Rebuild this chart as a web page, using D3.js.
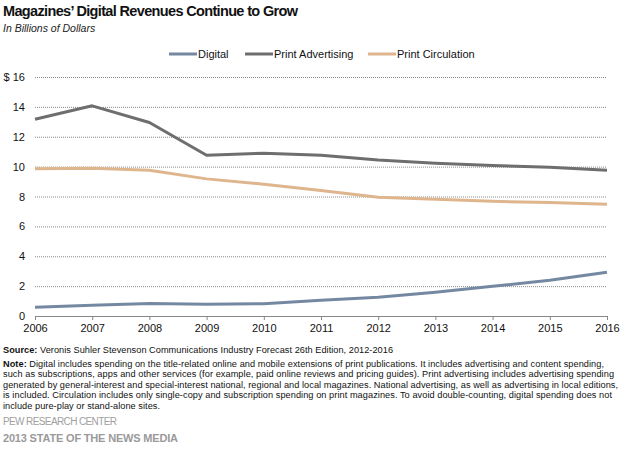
<!DOCTYPE html>
<html>
<head>
<meta charset="utf-8">
<script src="https://cdn.jsdelivr.net/npm/d3@7"></script>
<style>
  body { margin: 0; background: #fff; }
  svg text { font-family: "Liberation Sans", Arial, sans-serif; }
</style>
</head>
<body>
<div id="chart"></div>
<script>
var width = 628, height = 449;
var margin = { top: 77, right: 21, bottom: 133, left: 35 };

var years = [2006, 2007, 2008, 2009, 2010, 2011, 2012, 2013, 2014, 2015, 2016];
var digital = [0.58, 0.72, 0.83, 0.78, 0.82, 1.05, 1.25, 1.59, 1.99, 2.39, 2.93];
var printAdvertising = [13.17, 14.07, 12.95, 10.76, 10.9, 10.76, 10.45, 10.23, 10.07, 9.96, 9.76];
var printCirculation = [9.85, 9.89, 9.76, 9.18, 8.82, 8.4, 7.95, 7.82, 7.68, 7.59, 7.48];
var yTicks = [0, 2, 4, 6, 8, 10, 12, 14, 16];

var seriesNames = ["Digital", "Print Advertising", "Print Circulation"];
var seriesColors = ["#7489a1", "#6e6e6e", "#dfb58e"];
var series = [digital, printAdvertising, printCirculation];

var sourceText = " Veronis Suhler Stevenson Communications Industry Forecast 26th Edition, 2012-2016";
var noteLines = [
  " Digital includes spending on the title-related online and mobile extensions of print publications. It includes advertising and content spending,",
  "such as subscriptions, apps and other services (for example, paid online reviews and pricing guides).  Print advertising includes advertising spending",
  "generated by general-interest and special-interest national, regional and local magazines. National advertising, as well as advertising in local editions,",
  "is included. Circulation includes only single-copy and subscription spending on print magazines.  To avoid double-counting, digital spending does not",
  "include pure-play  or stand-alone sites."
];
// measured widths of the footnote lines in the original
var noteWidths = [601, 611, 615, 609, 157];

var svg = d3.select("#chart").append("svg")
    .attr("width", width)
    .attr("height", height);

// title block
svg.append("text")
    .attr("x", 3).attr("y", 16)
    .attr("font-size", 14.5).attr("font-weight", "bold")
    .attr("fill", "#111")
    .attr("textLength", 295)
    .text("Magazines\u2019 Digital Revenues  Continue to Grow");
svg.append("text")
    .attr("x", 3).attr("y", 32)
    .attr("font-size", 10.5).attr("font-style", "italic")
    .attr("fill", "#222")
    .text("In Billions  of Dollars");

var x = d3.scaleLinear()
    .domain([2006, 2016])
    .range([margin.left, width - margin.right]);
var y = d3.scaleLinear()
    .domain([0, 16])
    .range([height - margin.bottom, margin.top]);

// gridlines
svg.append("g")
    .selectAll("line")
    .data(yTicks.filter(function (d) { return d > 0; }))
    .enter().append("line")
    .attr("x1", margin.left)
    .attr("x2", width - margin.right)
    .attr("y1", function (d) { return y(d) + 0.5; })
    .attr("y2", function (d) { return y(d) + 0.5; })
    .attr("stroke", "#888")
    .attr("stroke-width", 1)
    .attr("stroke-dasharray", "1,1");

// y labels
svg.append("g")
    .selectAll("text")
    .data(yTicks)
    .enter().append("text")
    .attr("x", 25)
    .attr("y", function (d) { return y(d) + 4; })
    .attr("text-anchor", "end")
    .attr("font-size", 11)
    .attr("fill", "#111")
    .text(function (d) { return d === 16 ? "$ 16" : d; });

// x axis
var xAxis = d3.axisBottom(x)
    .tickValues(years)
    .tickFormat(d3.format("d"))
    .tickSize(4)
    .tickPadding(4);
var gx = svg.append("g")
    .attr("transform", "translate(0," + (height - margin.bottom) + ")")
    .call(xAxis);
gx.select(".domain").attr("stroke", "#888").attr("d", "M" + margin.left + ",0.5H" + (width - margin.right));
gx.selectAll(".tick line").attr("stroke", "#888");
gx.selectAll(".tick text")
    .attr("font-size", 11)
    .attr("fill", "#111")
    .attr("font-family", "Liberation Sans, Arial, sans-serif");

// lines
var line = d3.line()
    .x(function (d, i) { return x(years[i]); })
    .y(function (d) { return y(d); });

svg.append("g")
    .selectAll("path")
    .data(series)
    .enter().append("path")
    .attr("d", line)
    .attr("fill", "none")
    .attr("stroke", function (d, i) { return seriesColors[i]; })
    .attr("stroke-width", 3)
    .attr("stroke-linejoin", "round");

// legend
var legendX = [169, 245, 368];
var legend = svg.append("g")
    .selectAll("g")
    .data(seriesNames)
    .enter().append("g")
    .attr("transform", function (d, i) { return "translate(" + legendX[i] + ",54)"; });
legend.append("line")
    .attr("x1", 0).attr("x2", 28)
    .attr("y1", 0).attr("y2", 0)
    .attr("stroke", function (d, i) { return seriesColors[i]; })
    .attr("stroke-width", 3);
legend.append("text")
    .attr("x", 29).attr("y", 4)
    .attr("font-size", 11)
    .attr("fill", "#111")
    .text(function (d) { return d; });

// footnotes
var src = svg.append("text")
    .attr("x", 3).attr("y", 353)
    .attr("font-size", 9.2).attr("fill", "#111")
    .attr("textLength", 390);
src.append("tspan").attr("font-weight", "bold").text("Source:");
src.append("tspan").text(sourceText);

var notes = svg.append("g");
noteLines.forEach(function (t, i) {
  var tx = notes.append("text")
      .attr("x", 3).attr("y", 366.5 + i * 10.5)
      .attr("font-size", 9.2).attr("fill", "#111")
      .attr("textLength", noteWidths[i]);
  if (i === 0) {
    tx.append("tspan").attr("font-weight", "bold").text("Note:");
    tx.append("tspan").text(t);
  } else {
    tx.text(t);
  }
});

svg.append("text")
    .attr("x", 3).attr("y", 425)
    .attr("font-size", 10).attr("fill", "#a0a0a0")
    .attr("textLength", 114)
    .text("PEW RESEARCH CENTER");
svg.append("text")
    .attr("x", 3).attr("y", 441.5)
    .attr("font-size", 11).attr("font-weight", "bold").attr("fill", "#9a9a9a")
    .attr("textLength", 175)
    .text("2013 STATE OF THE NEWS MEDIA");
</script>
</body>
</html>
